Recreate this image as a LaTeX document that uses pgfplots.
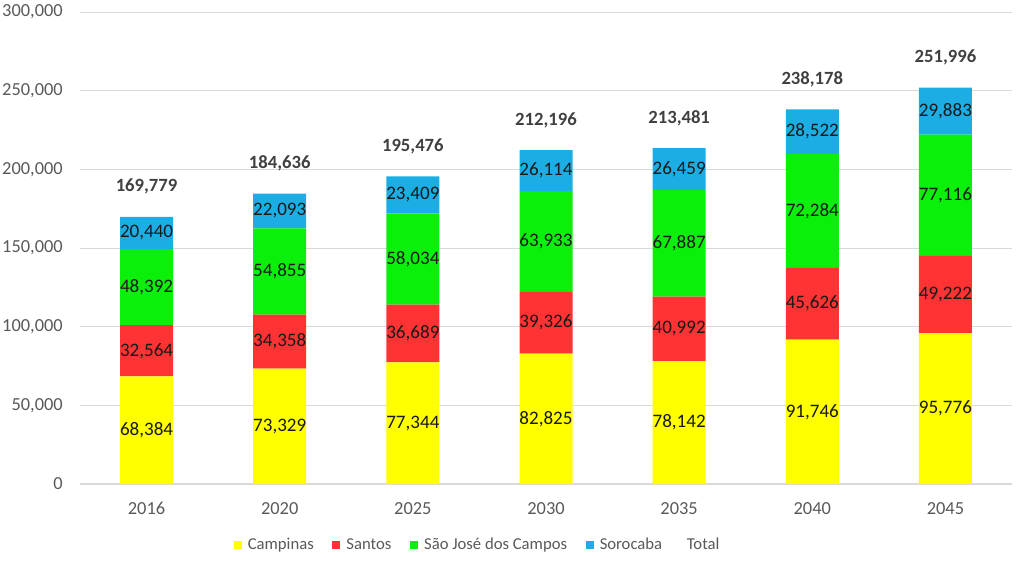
\documentclass[border=0pt]{standalone}
\usepackage{pgfplots}
\pgfplotsset{compat=1.18}
\usepackage{pgfplotstable}
\usepackage{fontspec}
\setmainfont{Carlito}
\definecolor{cy}{HTML}{FFFF00}
\definecolor{cr}{HTML}{FF3333}
\definecolor{cg}{HTML}{0BF00B}
\definecolor{cb}{HTML}{1CADE4}
\definecolor{txt}{HTML}{595959}
\definecolor{grd}{HTML}{D9D9D9}
\pgfplotstableread{
x a b c d total
0 68384 32564 48392 20440 169779
1 73329 34358 54855 22093 184636
2 77344 36689 58034 23409 195476
3 82825 39326 63933 26114 212196
4 78142 40992 67887 26459 213481
5 91746 45626 72284 28522 238178
6 95776 49222 77116 29883 251996
}\data
\pgfplotsset{
  base/.style={
    scale only axis, width=699pt, height=354pt,
    xmin=-0.5, xmax=6.5, ymin=0, ymax=300000,
    /pgf/number format/assume math mode=true,
    /pgf/number format/fixed, /pgf/number format/1000 sep={,},
  },
  lbl/.style={draw=none, mark=none, nodes near coords,
    point meta=explicit,
    nodes near coords={\pgfmathprintnumber[fixed,precision=0,1000 sep={,}]{\pgfplotspointmeta}},
    every node near coord/.append style={anchor=center, inner sep=0pt, font=\fontsize{14.3}{16}\selectfont, text=black!90}},
}
\begin{document}
\begin{tikzpicture}
\useasboundingbox (-60pt,-63.75pt) rectangle (708pt,363pt);
\begin{axis}[base,
  ybar stacked, bar width=39.75pt,
  axis x line*=bottom, axis y line*=left,
  x axis line style={grd, line width=0.8pt, -},
  y axis line style={draw=none},
  ymajorgrids, grid style={grd, line width=0.6pt},
  ytick={0,50000,...,300000},
  scaled y ticks=false,
  yticklabel style={anchor=east, inner sep=0pt, xshift=-12.75pt},
  xtick=data, xticklabels={2016,2020,2025,2030,2035,2040,2045},
  major tick length=0pt,
  tick label style={font=\fontsize{13.8}{16}\selectfont, text=txt},
  xticklabel style={anchor=north, inner sep=0pt, yshift=-13.5pt},
  legend style={at={(0.427,-0.129)}, anchor=center, draw=none, legend columns=-1,
    font=\fontsize{12.5}{15}\selectfont, text=txt,
    /tikz/every odd column/.append style={column sep=2.5pt},
    /tikz/every even column/.append style={column sep=12pt}},
  legend image code/.code={\fill[#1] (0pt,-3.2pt) rectangle (6pt,3.2pt);},
]
\addplot[fill=cy, draw=none] table[x=x,y=a]{\data};
\addlegendentry{Campinas}
\addplot[fill=cr, draw=none] table[x=x,y=b]{\data};
\addlegendentry{Santos}
\addplot[fill=cg, draw=none] table[x=x,y=c]{\data};
\addlegendentry{São José dos Campos}
\addplot[fill=cb, draw=none] table[x=x,y=d]{\data};
\addlegendentry{Sorocaba}
\addlegendimage{empty legend}
\addlegendentry{Total}
\end{axis}
\begin{axis}[base, hide axis]
\addplot[lbl] table[x=x, y expr=\thisrow{a}/2, meta=a]{\data};
\addplot[lbl] table[x=x, y expr=\thisrow{a}+\thisrow{b}/2, meta=b]{\data};
\addplot[lbl] table[x=x, y expr=\thisrow{a}+\thisrow{b}+\thisrow{c}/2, meta=c]{\data};
\addplot[lbl] table[x=x, y expr=\thisrow{a}+\thisrow{b}+\thisrow{c}+\thisrow{d}/2, meta=d]{\data};
\addplot[lbl, every node near coord/.append style={font=\bfseries\fontsize{14}{16}\selectfont, text=black!75, yshift=22.5pt}] table[x=x, y=total, meta=total]{\data};
\end{axis}
\end{tikzpicture}
\end{document}
